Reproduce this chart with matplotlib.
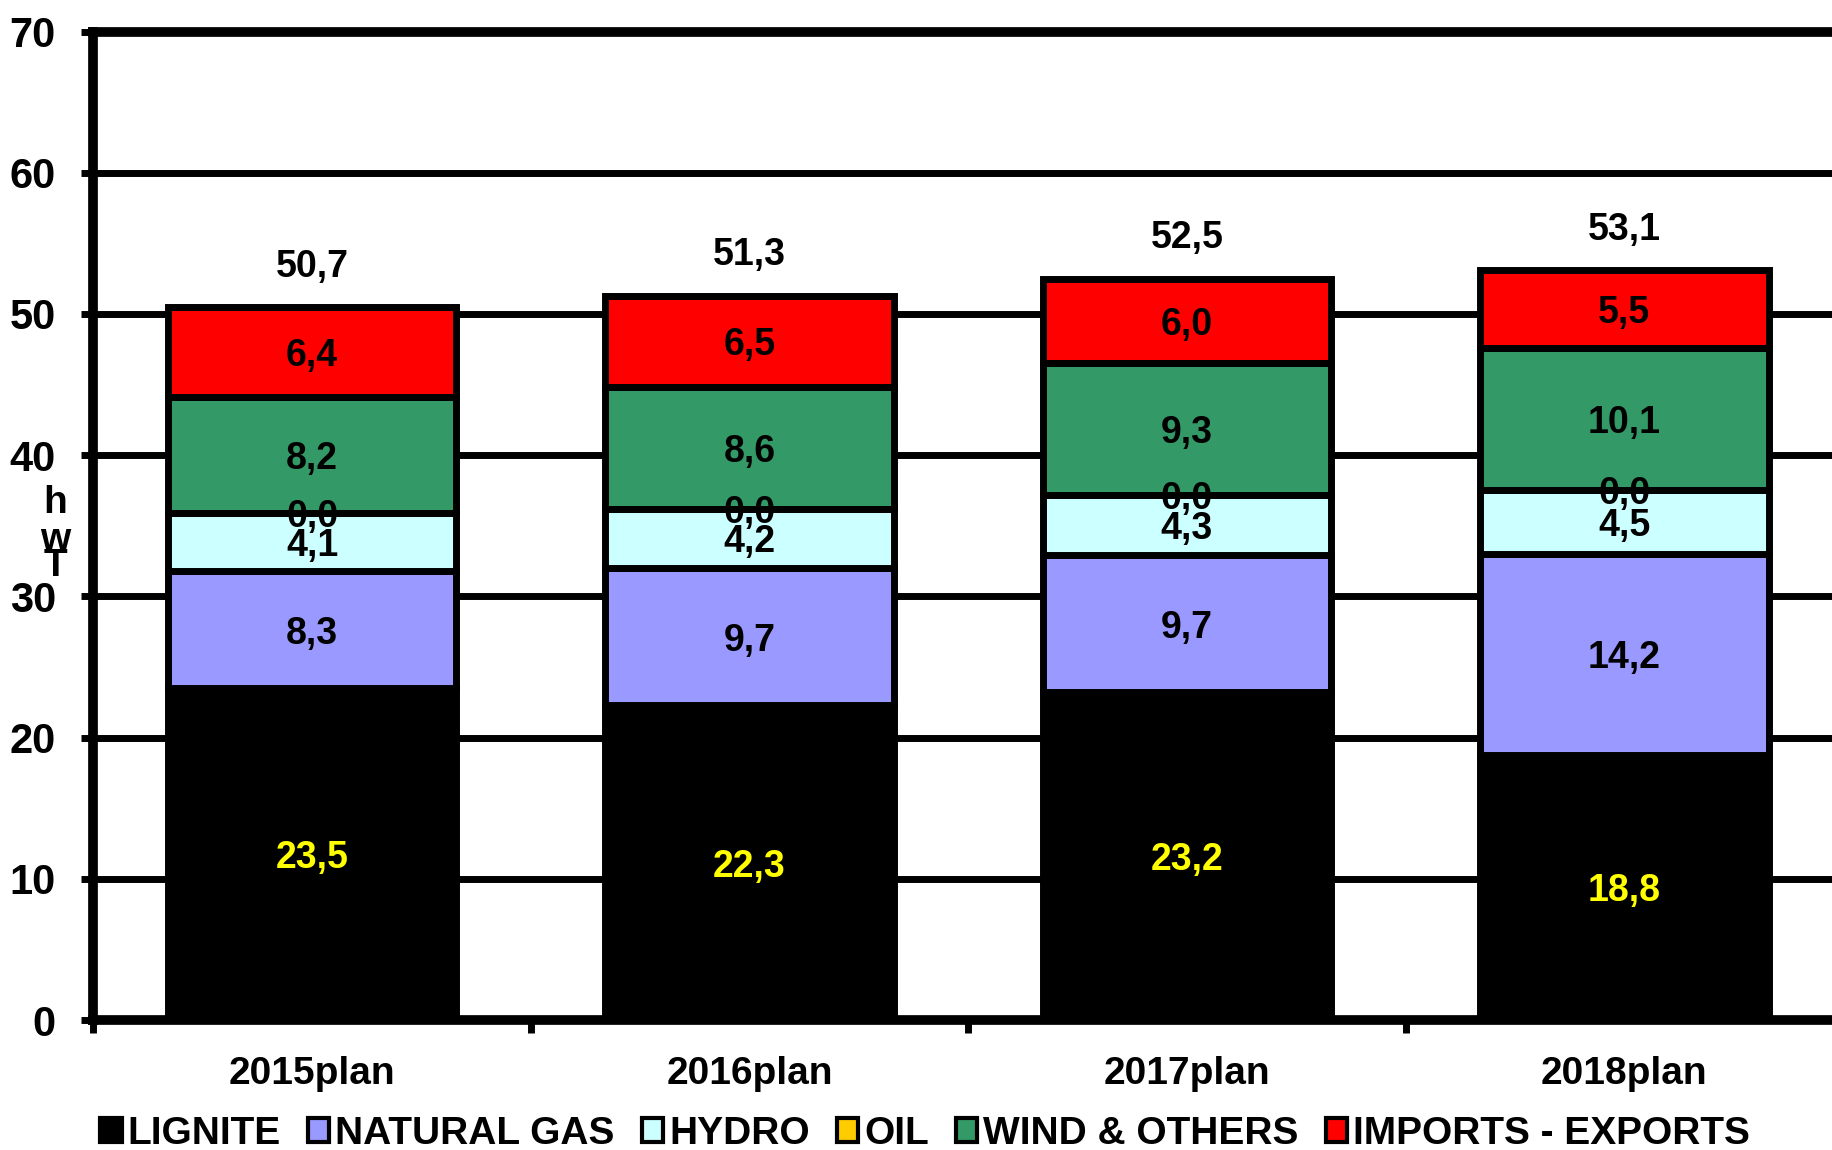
import matplotlib
matplotlib.use("Agg")
import matplotlib.pyplot as plt
import numpy as np
from matplotlib.patches import Patch

categories = ["2015plan", "2016plan", "2017plan", "2018plan"]
series_names = ["LIGNITE", "NATURAL GAS", "HYDRO", "OIL", "WIND & OTHERS", "IMPORTS - EXPORTS"]
lignite = [23.5, 22.3, 23.2, 18.8]
natural_gas = [8.3, 9.7, 9.7, 14.2]
hydro = [4.1, 4.2, 4.3, 4.5]
oil = [0.0, 0.0, 0.0, 0.0]
wind_others = [8.2, 8.6, 9.3, 10.1]
imports_exports = [6.4, 6.5, 6.0, 5.5]
totals = [50.7, 51.3, 52.5, 53.1]
y_ticks = [0, 10, 20, 30, 40, 50, 60, 70]

colors = ["#000000", "#9999FF", "#CCFFFF", "#FFCC00", "#339966", "#FF0000"]
label_colors = ["#FFFF00", "black", "black", "black", "black", "black"]

plt.rcParams['font.family'] = ['Liberation Sans', 'DejaVu Sans']
plt.rcParams['font.weight'] = 'bold'

fig = plt.figure(figsize=(18.32, 11.5), dpi=100)
ax = fig.add_axes([0.051, 0.113, 0.955, 0.8596])

series = [lignite, natural_gas, hydro, oil, wind_others, imports_exports]
x = np.arange(len(categories))
bottom = np.zeros(len(categories))
for vals, col, lc in zip(series, colors, label_colors):
    vals = np.array(vals)
    ax.bar(x, vals, width=0.66, bottom=bottom, color=col, edgecolor='black',
           linewidth=5, zorder=3)
    for xi, b, v in zip(x, bottom, vals):
        ax.text(xi, b + v / 2, f"{v:.1f}".replace('.', ','), ha='center',
                va='center_baseline', fontsize=27, fontweight='bold', color=lc, zorder=5)
    bottom = bottom + vals

for xi, top, t in zip(x, bottom, totals):
    ax.annotate(f"{t:.1f}".replace('.', ','), (xi, top), xytext=(0, 29),
                textcoords='offset points', ha='center', va='center',
                fontsize=27, fontweight='bold', color='black')

ax.set_xlim(-0.5, len(categories) - 0.5)
ax.set_ylim(0, 70)
ax.set_yticks(y_ticks)
ax.set_yticklabels([str(v) for v in y_ticks], fontsize=30, fontweight='bold')
ax.yaxis.grid(True, color='black', linewidth=5, zorder=0)
ax.set_axisbelow(True)

ax.set_xticks(x)
ax.set_xticklabels(categories, fontsize=28, fontweight='bold')
ax.tick_params(axis='x', which='major', length=0, pad=26)
ax.set_xticks(np.arange(-0.5, len(categories), 1.0), minor=True)
ax.tick_params(axis='x', which='minor', length=9, width=5, direction='out')
ax.tick_params(axis='y', which='major', length=9, width=5, direction='out', pad=18)

for s in ['left', 'bottom', 'top']:
    ax.spines[s].set_linewidth(7)
ax.spines['right'].set_visible(False)

# y-axis label drawn as stacked characters
fig.text(0.030, 1 - 503 / 1150, "h", fontsize=28, fontweight='bold', ha='center', va='center')
fig.text(0.030, 1 - 540 / 1150, "w", fontsize=28, fontweight='bold', ha='center', va='center')
fig.text(0.030, 1 - 566 / 1150, "T", fontsize=28, fontweight='bold', ha='center', va='center')

handles = [Patch(facecolor=c, edgecolor='black', linewidth=3) for c in colors]
fig.legend(handles, series_names, loc='lower center', bbox_to_anchor=(0.505, -0.032),
           ncol=6, frameon=False, handlelength=0.55, handleheight=0.55,
           handletextpad=0.15, columnspacing=0.7, prop={'weight': 'bold', 'size': 28})

fig.savefig("out.png", dpi=100)
